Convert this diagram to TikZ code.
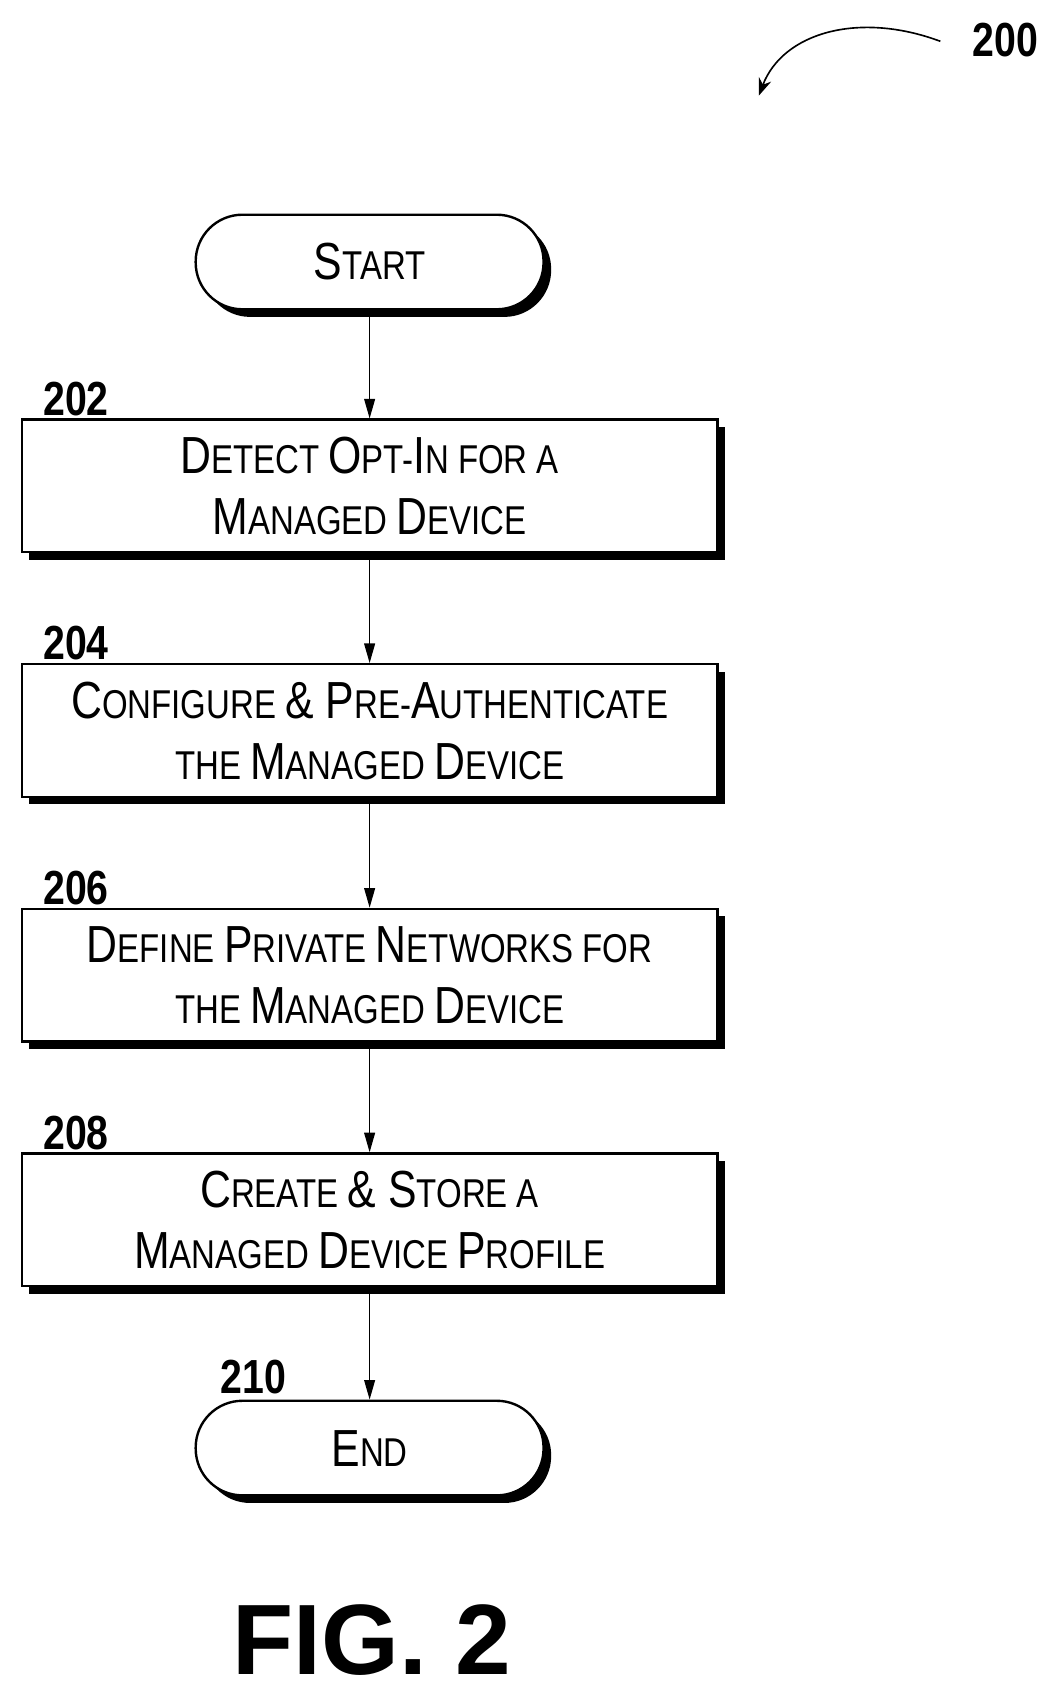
\documentclass[tikz,border=0pt]{standalone}
\usepackage{fontspec}
\setmainfont{Liberation Sans}[FakeStretch=0.82]
\newfontfamily\figfont{Liberation Sans}
\usetikzlibrary{arrows.meta,shadows}
\newcommand{\Bg}[1]{{\fontsize{48}{50}\selectfont #1}}
\newcommand{\Sm}[1]{{\fontsize{37}{40}\selectfont #1}}
\tikzset{
  sh/.style={drop shadow={shadow xshift=7pt,shadow yshift=-7pt,fill=black,opacity=1}},
  stepbox/.style={draw,line width=2.2pt,fill=white,minimum width=640pt,minimum height=122pt,align=center,sh,inner sep=0pt,font=\fontsize{37}{56}\selectfont},
  term/.style={draw,line width=2.2pt,fill=white,rounded corners=43pt,minimum width=320pt,minimum height=87pt,sh,font=\fontsize{37}{56}\selectfont},
  conn/.style={line width=1.2pt,-{Triangle[length=18pt,width=10pt]}},
  num/.style={font=\fontsize{44}{44}\selectfont\bfseries,anchor=base}
}
\begin{document}
\begin{tikzpicture}[x=1pt,y=-1pt]
\useasboundingbox (0,0) rectangle (970,1561);
\node[term] (start) at (340,241) {\Bg{S}\Sm{TART}};
\node[stepbox] (b202) at (340,447) {\Bg{D}\Sm{ETECT }\Bg{O}\Sm{PT-}\Bg{I}\Sm{N FOR A}\\\Bg{M}\Sm{ANAGED }\Bg{D}\Sm{EVICE}};
\node[stepbox] (b204) at (340,672) {\Bg{C}\Sm{ONFIGURE }\Bg{\& P}\Sm{RE-}\Bg{A}\Sm{UTHENTICATE}\\\Sm{THE }\Bg{M}\Sm{ANAGED }\Bg{D}\Sm{EVICE}};
\node[stepbox] (b206) at (340,897) {\Bg{D}\Sm{EFINE }\Bg{P}\Sm{RIVATE }\Bg{N}\Sm{ETWORKS FOR}\\\Sm{THE }\Bg{M}\Sm{ANAGED }\Bg{D}\Sm{EVICE}};
\node[stepbox] (b208) at (340,1122) {\Bg{C}\Sm{REATE }\Bg{\& S}\Sm{TORE A}\\\Bg{M}\Sm{ANAGED }\Bg{D}\Sm{EVICE }\Bg{P}\Sm{ROFILE}};
\node[term] (end) at (340,1332) {\Bg{E}\Sm{ND}};
\draw[conn] (start) -- (b202);
\draw[conn] (b202) -- (b204);
\draw[conn] (b204) -- (b206);
\draw[conn] (b206) -- (b208);
\draw[conn] (b208) -- (end);
\node[num] (n202) at (70,382) {202};
\node[num] (n204) at (70,607) {204};
\node[num] (n206) at (70,832) {206};
\node[num] (n208) at (70,1057) {208};
\node[num] (n210) at (233,1282) {210};
\node[num] (n200) at (925,52) {200};
\coordinate (a0) at (865,38);
\coordinate (a1) at (698,88);
\draw[line width=1.5pt,-{Stealth[length=16pt,width=12pt]}] (a0) .. controls (790,10) and (720,30) .. (a1);
\node[font=\figfont\fontsize{92}{92}\selectfont\bfseries,anchor=base] (fig) at (342,1540) {FIG. 2};
\end{tikzpicture}
\end{document}
